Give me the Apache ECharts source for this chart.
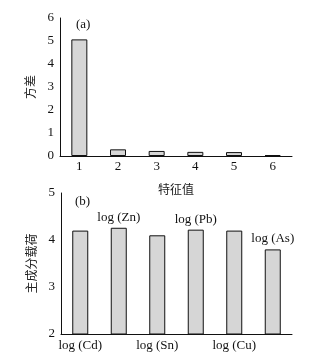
<!DOCTYPE html>
<html>
<head>
<meta charset="utf-8">
<script src="https://cdn.jsdelivr.net/npm/echarts@6/dist/echarts.min.js"></script>
<style>
  html, body { margin: 0; padding: 0; background: #fff; }
  #chart { width: 331px; height: 357px; }
</style>
</head>
<body>
<div id="chart"></div>
<script>
// (a) 特征值 - 方差
const eigenLabels = ['1', '2', '3', '4', '5', '6']
const variance = [5.07, 0.29, 0.22, 0.18, 0.17, 0.04]

// (b) 主成分载荷
const elements = ['log (Cd)', 'log (Zn)', 'log (Sn)', 'log (Pb)', 'log (Cu)', 'log (As)']
const loadings = [4.2, 4.26, 4.1, 4.22, 4.2, 3.8]

const serif = '"Liberation Serif", "DejaVu Serif", serif'
const cjk = '"Noto Sans CJK SC", sans-serif'

const chart = echarts.init(document.getElementById('chart'))

const axisLine = { lineStyle: { color: '#111', width: 1 } }
const axisTick = { inside: true, length: 5, lineStyle: { color: '#111' } }
const barStyle = { color: '#d6d6d6', borderColor: '#111', borderWidth: 1 }

const option = {
  animation: false,
  backgroundColor: '#fff',
  grid: [
    { left: 60, right: 39, top: 18, height: 138 },
    { left: 61, right: 39, top: 193, height: 141 }
  ],
  xAxis: [
    {
      gridIndex: 0,
      type: 'category',
      data: eigenLabels,
      axisLine: axisLine,
      axisTick: axisTick,
      axisLabel: { color: '#111', fontFamily: serif, fontSize: 13, margin: 4 },
      name: '特征值',
      nameLocation: 'middle',
      nameGap: 27,
      nameTextStyle: { color: '#222', fontFamily: cjk, fontSize: 12 }
    },
    {
      gridIndex: 1,
      type: 'category',
      data: elements,
      axisLine: axisLine,
      axisTick: axisTick,
      axisLabel: {
        color: '#111', fontFamily: serif, fontSize: 13, margin: 5,
        interval: 0,
        formatter: (v, i) => (i % 2 === 0 ? v : '')
      }
    }
  ],
  yAxis: [
    {
      gridIndex: 0,
      type: 'value',
      min: 0, max: 6, interval: 1,
      axisLine: { show: true, lineStyle: { color: '#111' } },
      axisTick: axisTick,
      splitLine: { show: false },
      axisLabel: { color: '#111', fontFamily: serif, fontSize: 13, margin: 6 },
      name: '方差',
      nameLocation: 'middle',
      nameGap: 22,
      nameTextStyle: { color: '#222', fontFamily: cjk, fontSize: 12 }
    },
    {
      gridIndex: 1,
      type: 'value',
      min: 2, max: 5, interval: 1,
      axisLine: { show: true, lineStyle: { color: '#111' } },
      axisTick: axisTick,
      splitLine: { show: false },
      axisLabel: { color: '#111', fontFamily: serif, fontSize: 13, margin: 6 },
      name: '主成分载荷',
      nameLocation: 'middle',
      nameGap: 24,
      nameTextStyle: { color: '#222', fontFamily: cjk, fontSize: 12 }
    }
  ],
  series: [
    {
      type: 'bar',
      xAxisIndex: 0,
      yAxisIndex: 0,
      data: variance,
      barWidth: 16,
      itemStyle: barStyle
    },
    {
      type: 'bar',
      xAxisIndex: 1,
      yAxisIndex: 1,
      data: loadings,
      barWidth: 16,
      itemStyle: barStyle,
      label: {
        show: true,
        position: 'top',
        distance: 4,
        color: '#111',
        fontFamily: serif,
        fontSize: 13,
        // 奇数位的元素名写在柱子上方
        formatter: (p) => (p.dataIndex % 2 === 1 ? elements[p.dataIndex] : '')
      }
    }
  ],
  graphic: [
    { type: 'text', left: 76, top: 18, style: { text: '(a)', font: '13px ' + serif, fill: '#111' } },
    { type: 'text', left: 75, top: 195, style: { text: '(b)', font: '13px ' + serif, fill: '#111' } }
  ]
}

chart.setOption(option)
</script>
</body>
</html>
